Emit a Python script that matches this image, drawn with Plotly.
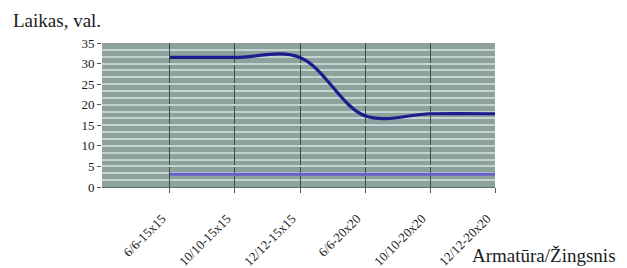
import plotly.graph_objects as go

categories = ["6/6-15x15", "10/10-15x15", "12/12-15x15", "6/6-20x20", "10/10-20x20", "12/12-20x20"]
series_main = [31.5, 31.5, 31.5, 17.3, 17.8, 17.8]
series_low = [3.1, 3.1, 3.1, 3.1, 3.1, 3.1]
y_ticks = [0, 5, 10, 15, 20, 25, 30, 35]

x_pos = list(range(len(categories)))
FONT = "Liberation Serif, Times New Roman, serif"

fig = go.Figure()
fig.add_trace(go.Scatter(x=x_pos, y=series_low, mode="lines",
                         line=dict(color="#6b5fd0", width=3), showlegend=False))
fig.add_trace(go.Scatter(x=x_pos, y=series_main, mode="lines",
                         line=dict(color="#1c1c8e", width=3.2, shape="spline", smoothing=1.0),
                         showlegend=False))

fig.update_layout(
    width=627, height=268,
    margin=dict(l=102, r=132, t=43, b=81, autoexpand=False),
    paper_bgcolor="white",
    plot_bgcolor="#8da29c",
    font=dict(family=FONT, color="#1a1a1a"),
    title=dict(text="Laikas, val.", xref="container", yref="container",
               x=13/627, xanchor="left", y=1-20/268, yanchor="middle",
               font=dict(family=FONT, size=19, color="#1a1a1a")),
    xaxis=dict(range=[-1.046, 5], tickmode="array", tickvals=x_pos, ticktext=categories,
               tickangle=-45, tickfont=dict(size=13, family=FONT),
               ticklabelstandoff=13, ticklabelshift=-8,
               showgrid=True, gridcolor="#35504a", gridwidth=1,
               ticks="outside", ticklen=5, tickcolor="#555555",
               showline=True, linecolor="#5a6e6a", zeroline=False, automargin=False),
    yaxis=dict(range=[0, 35], tickmode="array", tickvals=y_ticks,
               tickfont=dict(size=13, family=FONT),
               showgrid=True, gridcolor="#c3d3cf", gridwidth=2,
               minor=dict(dtick=5/3, showgrid=True, gridcolor="#c3d3cf", gridwidth=2),
               ticks="outside", ticklen=4, tickcolor="#555555",
               zeroline=False, showline=False, automargin=False),
    annotations=[dict(text="Armatūra/Žingsnis", xref="paper", yref="paper",
                      x=(470-102)/393, y=(187-255)/144, xanchor="left", yanchor="middle",
                      showarrow=False, font=dict(family=FONT, size=19, color="#1a1a1a"))],
)

fig.write_html("out.html", post_script="document.body.style.margin='0';",
               config={"displayModeBar": False})
